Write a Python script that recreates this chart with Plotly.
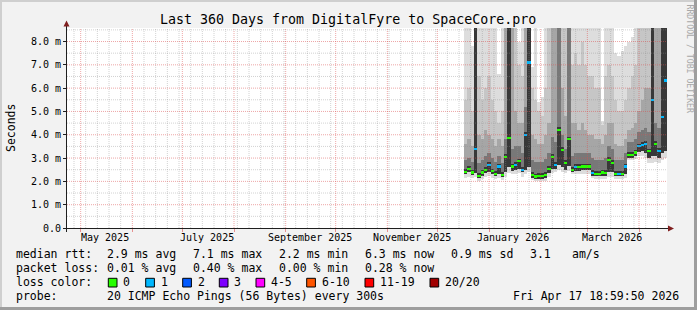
import pandas as pd
import plotly.graph_objects as go

# ---------------- data ----------------
dates = pd.date_range("2025-12-17", periods=61, freq="2D")

median_ms = [2.42, 2.53, 2.38, 3.40, 2.25, 2.38, 2.50, 2.70, 2.43, 2.33,
             2.64, 2.28, 3.04, 3.86, 2.64, 2.71, 2.86, 2.50, 4.00, 7.10,
             2.28, 2.21, 2.24, 2.24, 2.28, 2.55, 3.06, 2.71, 4.20, 3.36,
             2.79, 3.80, 2.50, 2.62, 2.62, 2.64, 2.64, 2.64, 2.36, 2.33,
             2.33, 2.38, 2.36, 2.93, 2.79, 2.33, 2.33, 2.33, 2.64, 3.14,
             3.14, 3.24, 3.50, 3.57, 3.62, 3.29, 5.50, 3.62, 3.30, 4.76,
             6.33]

lost_pings = [0, 0, 0, 1, 0, 0, 0, 1, 0, 0,
              1, 0, 0, 0, 0, 1, 0, 1, 1, 1,
              0, 0, 0, 0, 0, 0, 0, 1, 0, 0,
              0, 0, 0, 1, 0, 0, 0, 0, 1, 0,
              0, 0, 0, 0, 0, 0, 1, 0, 1, 0,
              0, 0, 1, 1, 1, 0, 1, 0, 1, 1,
              1]

smoke_min = [2.15, 2.20, 2.15, 2.20, 2.00, 2.10, 2.20, 2.25, 2.15, 2.10,
             2.15, 2.05, 2.20, 2.35, 2.30, 2.30, 2.35, 2.20, 2.30, 2.40,
             2.05, 2.00, 2.00, 2.00, 2.00, 2.20, 2.35, 2.40, 2.50, 2.40,
             2.35, 2.45, 2.30, 2.30, 2.30, 2.30, 2.30, 2.30, 2.15, 2.10,
             2.10, 2.10, 2.10, 2.20, 2.20, 2.10, 2.10, 2.10, 2.15, 2.90,
             2.90, 2.95, 3.10, 3.10, 3.00, 2.80, 2.80, 2.85, 2.80, 2.90,
             3.00]

smoke_core_lo = [2.30, 2.40, 2.28, 2.35, 2.15, 2.25, 2.35, 2.40, 2.30, 2.22,
                 2.30, 2.18, 2.40, 2.60, 2.45, 2.50, 2.55, 2.40, 2.50, 2.60,
                 2.15, 2.10, 2.12, 2.12, 2.15, 2.35, 2.55, 2.55, 2.70, 2.60,
                 2.50, 2.65, 2.40, 2.45, 2.45, 2.48, 2.48, 2.48, 2.25, 2.22,
                 2.22, 2.25, 2.25, 2.40, 2.40, 2.22, 2.22, 2.22, 2.30, 3.02,
                 3.02, 3.10, 3.25, 3.30, 3.20, 3.00, 3.10, 3.10, 3.00, 3.20,
                 3.30]

smoke_core_hi = [2.55, 2.65, 2.50, 9.00, 2.38, 2.50, 2.62, 2.82, 2.55, 2.45,
                 2.76, 2.40, 3.16, 9.00, 2.76, 2.83, 2.98, 2.62, 4.12, 9.00,
                 2.40, 2.33, 2.36, 2.36, 2.40, 2.67, 3.18, 2.83, 4.32, 3.48,
                 2.91, 3.92, 2.62, 2.74, 2.74, 2.76, 2.76, 2.76, 2.48, 2.45,
                 2.45, 2.50, 2.48, 3.05, 2.91, 2.45, 2.45, 2.45, 2.76, 3.26,
                 3.26, 3.36, 3.62, 3.69, 3.74, 3.41, 9.00, 3.74, 3.42, 9.00,
                 9.00]

smoke_dark_hi = [2.90, 3.00, 2.85, 9.00, 2.80, 2.90, 3.10, 3.20, 3.00, 2.85,
                 3.10, 2.80, 3.80, 9.00, 3.40, 3.50, 3.50, 3.20, 5.20, 9.00,
                 2.90, 2.85, 2.85, 2.85, 2.95, 3.20, 3.90, 3.70, 9.00, 4.00,
                 3.40, 9.00, 3.10, 3.20, 3.20, 3.20, 3.20, 3.20, 3.00, 2.90,
                 2.90, 2.90, 3.00, 3.50, 3.40, 2.90, 2.90, 2.90, 3.20, 3.70,
                 3.70, 3.80, 4.10, 4.20, 4.30, 4.10, 9.00, 4.50, 4.30, 9.00,
                 9.00]

smoke_mid_hi = [3.60, 3.80, 3.50, 9.00, 4.00, 3.80, 4.20, 4.00, 3.80, 3.50,
                3.80, 3.50, 9.00, 9.00, 9.00, 5.00, 4.50, 4.50, 9.00, 9.00,
                4.00, 3.80, 3.60, 3.60, 4.00, 4.50, 9.00, 9.00, 9.00, 6.00,
                4.80, 9.00, 4.50, 4.50, 4.20, 4.50, 4.20, 4.00, 4.00, 3.80,
                3.80, 3.60, 4.00, 4.50, 4.50, 3.60, 3.50, 3.50, 3.80, 4.20,
                4.30, 4.50, 5.00, 5.50, 6.00, 6.00, 9.00, 9.00, 9.00, 9.00,
                9.00]

smoke_light_hi = [5.50, 6.00, 5.00, 9.00, 6.50, 5.50, 6.00, 6.50, 5.50, 5.00,
                  4.50, 5.00, 9.00, 9.00, 9.00, 9.00, 7.00, 6.50, 9.00, 9.00,
                  6.00, 5.50, 5.00, 4.80, 6.00, 9.00, 9.00, 9.00, 9.00, 9.00,
                  9.00, 9.00, 7.00, 7.50, 7.00, 8.00, 7.00, 6.50, 6.50, 6.00,
                  6.00, 4.40, 6.50, 7.00, 6.50, 5.50, 5.00, 5.00, 5.50, 6.00,
                  6.50, 7.00, 9.00, 9.00, 9.00, 9.00, 9.00, 9.00, 9.00, 9.00,
                  9.00]

smoke_max = [9.00, 9.00, 7.80, 9.00, 9.00, 9.00, 9.00, 9.00, 9.00, 9.00,
             6.60, 9.00, 9.00, 9.00, 9.00, 9.00, 8.00, 9.00, 9.00, 9.00,
             6.90, 9.00, 5.40, 5.60, 9.00, 9.00, 9.00, 9.00, 9.00, 9.00,
             9.00, 9.00, 9.00, 9.00, 9.00, 9.00, 9.00, 9.00, 9.00, 9.00,
             9.00, 4.60, 9.00, 9.00, 9.00, 7.50, 7.40, 7.60, 7.80, 8.00,
             8.20, 9.00, 9.00, 9.00, 9.00, 9.00, 9.00, 9.00, 9.00, 9.00,
             9.00]

ytick_vals = [0, 1, 2, 3, 4, 5, 6, 7, 8]
ytick_text = ["0.0", "1.0 m", "2.0 m", "3.0 m", "4.0 m", "5.0 m", "6.0 m", "7.0 m", "8.0 m"]

xlabel_pos = ["2025-05-15 12:00", "2025-07-15 12:00", "2025-09-15 12:00",
              "2025-11-15 12:00", "2026-01-15 12:00", "2026-03-15 12:00"]
xlabel_text = ["May 2025", "July 2025", "September 2025",
               "November 2025", "January 2026", "March 2026"]

loss_labels = ["0", "1", "2", "3", "4-5", "6-10", "11-19", "20/20"]
loss_colors = ["#26ff00", "#00b8ff", "#0059ff", "#7e00ff", "#ff00ff", "#ff5500", "#ff0000", "#a10000"]

title = "Last 360 Days from DigitalFyre to SpaceCore.pro"
stats_rtt = ["median rtt:", "2.9 ms avg", "7.1 ms max", "2.2 ms min", "6.3 ms now", "0.9 ms sd", "3.1", "am/s"]
stats_loss = ["packet loss:", "0.01 % avg", "0.40 % max", "0.00 % min", "0.28 % now"]
probe_text = ["probe:", "20 ICMP Echo Pings (56 Bytes) every 300s", "Fri Apr 17 18:59:50 2026"]

# ---------------- layout constants ----------------
W, H = 697, 310
L, T, PW, PH = 67, 28, 600, 200
FONT = "DejaVu Sans Mono"
DAY_MS = 86400000
x_start = pd.Timestamp("2025-04-22 19:00:00")
x_end = pd.Timestamp("2026-04-17 19:00:00")
Y_MAX = 8.58


def fx(px):
    return (px - L) / PW


def fy(py):
    return (T + PH - py) / PH


fig = go.Figure()

# smoke bands (outer -> inner)
bands = [(smoke_min, smoke_max, "#dddddd"),
         (smoke_core_lo, smoke_light_hi, "#c6c6c6"),
         (smoke_core_lo, smoke_mid_hi, "#a6a6a6"),
         (smoke_core_lo, smoke_dark_hi, "#787878"),
         (smoke_core_lo, smoke_core_hi, "#383838")]
for lo, hi, col in bands:
    fig.add_trace(go.Bar(
        x=dates, base=lo, y=[h - l for h, l in zip(hi, lo)],
        width=2 * DAY_MS, offset=0,
        marker=dict(color=col, line=dict(width=0)), opacity=1,
        hoverinfo="skip", showlegend=False))

# median, coloured by loss
fig.add_trace(go.Bar(
    x=dates, base=[m - 0.045 for m in median_ms], y=[0.09] * len(median_ms),
    width=2 * DAY_MS, offset=0,
    marker=dict(color=[loss_colors[n] for n in lost_pings], line=dict(width=0)),
    opacity=1, hoverinfo="skip", showlegend=False))

shapes = []
GRID_MINOR = "rgba(143,143,143,0.40)"
GRID_MAJOR = "rgba(222,79,79,0.50)"
DASH = "1px,1px"

months = pd.date_range("2025-05-01", "2026-04-01", freq="MS")
weeks = pd.date_range("2025-04-27", "2026-04-12", freq="7D")
for d in weeks:
    if d in months:
        continue
    shapes.append(dict(type="line", xref="x", yref="paper", x0=d, x1=d, y0=0, y1=1,
                       line=dict(color=GRID_MINOR, width=1, dash=DASH), layer="above"))
for v in [0.5, 1.5, 2.5, 3.5, 4.5, 5.5, 6.5, 7.5, 8.5]:
    shapes.append(dict(type="line", xref="paper", yref="y", x0=0, x1=1, y0=v, y1=v,
                       line=dict(color=GRID_MINOR, width=1, dash=DASH), layer="above"))
for d in months:
    shapes.append(dict(type="line", xref="x", yref="paper", x0=d, x1=d, y0=0, y1=1,
                       line=dict(color=GRID_MAJOR, width=1, dash=DASH), layer="above"))
for v in ytick_vals[1:]:
    shapes.append(dict(type="line", xref="paper", yref="y", x0=0, x1=1, y0=v, y1=v,
                       line=dict(color=GRID_MAJOR, width=1, dash=DASH), layer="above"))

# axes + arrows
AX = "#1f1f1f"
ARROW = "#801f1f"
shapes.append(dict(type="line", xref="paper", yref="paper", x0=fx(63), x1=fx(670),
                   y0=fy(228.5), y1=fy(228.5), line=dict(color=AX, width=1), layer="above"))
shapes.append(dict(type="line", xref="paper", yref="paper", x0=fx(66.5), x1=fx(66.5),
                   y0=fy(232), y1=fy(24), line=dict(color=AX, width=1), layer="above"))
shapes.append(dict(type="path", xref="paper", yref="paper",
                   path=f"M {fx(668)} {fy(225.5)} L {fx(668)} {fy(231.5)} L {fx(674)} {fy(228.5)} Z",
                   fillcolor=ARROW, line=dict(color=ARROW, width=0), layer="above"))
shapes.append(dict(type="path", xref="paper", yref="paper",
                   path=f"M {fx(63.5)} {fy(26.5)} L {fx(69.5)} {fy(26.5)} L {fx(66.5)} {fy(20.5)} Z",
                   fillcolor=ARROW, line=dict(color=ARROW, width=0), layer="above"))


def rect(x0, y0, x1, y1, fill, line=None):
    return dict(type="rect", xref="paper", yref="paper", x0=fx(x0), x1=fx(x1), y0=fy(y1), y1=fy(y0),
                fillcolor=fill, line=line or dict(width=0), layer="above")


# image border
shapes.append(rect(0, 0, 697, 2, "#cfcfcf"))
shapes.append(rect(0, 0, 2, 310, "#cfcfcf"))
shapes.append(rect(694, 0, 697, 310, "#9e9e9e"))
shapes.append(rect(0, 307, 697, 310, "#9e9e9e"))

annotations = []


def txt(s, px, py, size=11.5, anchor="left", color="#000000", angle=0):
    annotations.append(dict(text=s, x=fx(px), y=fy(py), xref="paper", yref="paper",
                            xanchor=anchor, yanchor="middle", showarrow=False,
                            textangle=angle, borderpad=0, borderwidth=0,
                            font=dict(family=FONT, size=size, color=color)))


txt(title, 347.5, 19.3, size=13.3, anchor="center")
txt("Seconds", 11, 128, size=11.5, anchor="center", angle=-90)
txt("RRDTOOL / TOBI OETIKER", 689.5, 59, size=8.2, anchor="center", color="#a8a8a8", angle=90)

for pos, lab in zip(xlabel_pos, xlabel_text):
    annotations.append(dict(text=lab, x=pos, xref="x", y=fy(237.7), yref="paper",
                            xanchor="center", yanchor="middle", showarrow=False,
                            borderpad=0, borderwidth=0, font=dict(family=FONT, size=10, color="#000")))

for s, px in zip(stats_rtt, [16, 107.3, 193.3, 279.3, 365, 451, 530, 571.7]):
    txt(s, px, 254.3)
for s, px in zip(stats_loss, [16, 107.3, 193.3, 279.3, 365]):
    txt(s, px, 268.3)
txt("loss color:", 16, 282.3)
box_x = [108.3, 145.7, 182.7, 219.3, 256, 306.7, 365, 430]
for bx, lab, col in zip(box_x, loss_labels, loss_colors):
    shapes.append(rect(bx, 278.3, bx + 8.7, 287, col, dict(color="#000000", width=1)))
    txt(lab, bx + 15, 282.3)
for s, px in zip(probe_text, [16, 107.3, 513.3]):
    txt(s, px, 296)

fig.update_layout(
    width=W, height=H, autosize=False,
    margin=dict(l=L, r=W - L - PW, t=T, b=H - T - PH, pad=0),
    paper_bgcolor="#f2f2f2", plot_bgcolor="#ffffff",
    barmode="overlay", bargap=0, showlegend=False,
    font=dict(family=FONT, size=10, color="#000000"),
    xaxis=dict(type="date", range=[x_start, x_end], showgrid=False, zeroline=False,
               showticklabels=False, ticks="outside", tickmode="linear",
               tick0="2025-05-01", dtick="M1", ticklen=3,
               tickcolor="rgba(222,79,79,0.6)", showline=False, fixedrange=True),
    yaxis=dict(range=[0, Y_MAX], tickmode="array", tickvals=ytick_vals, ticktext=ytick_text,
               ticks="outside", ticklen=3, tickcolor=AX, showgrid=False, zeroline=False,
               showline=False, tickfont=dict(family=FONT, size=10, color="#000"),
               fixedrange=True),
    shapes=shapes, annotations=annotations,
)

fig.write_html("out.html", config={"displayModeBar": False, "staticPlot": True})
